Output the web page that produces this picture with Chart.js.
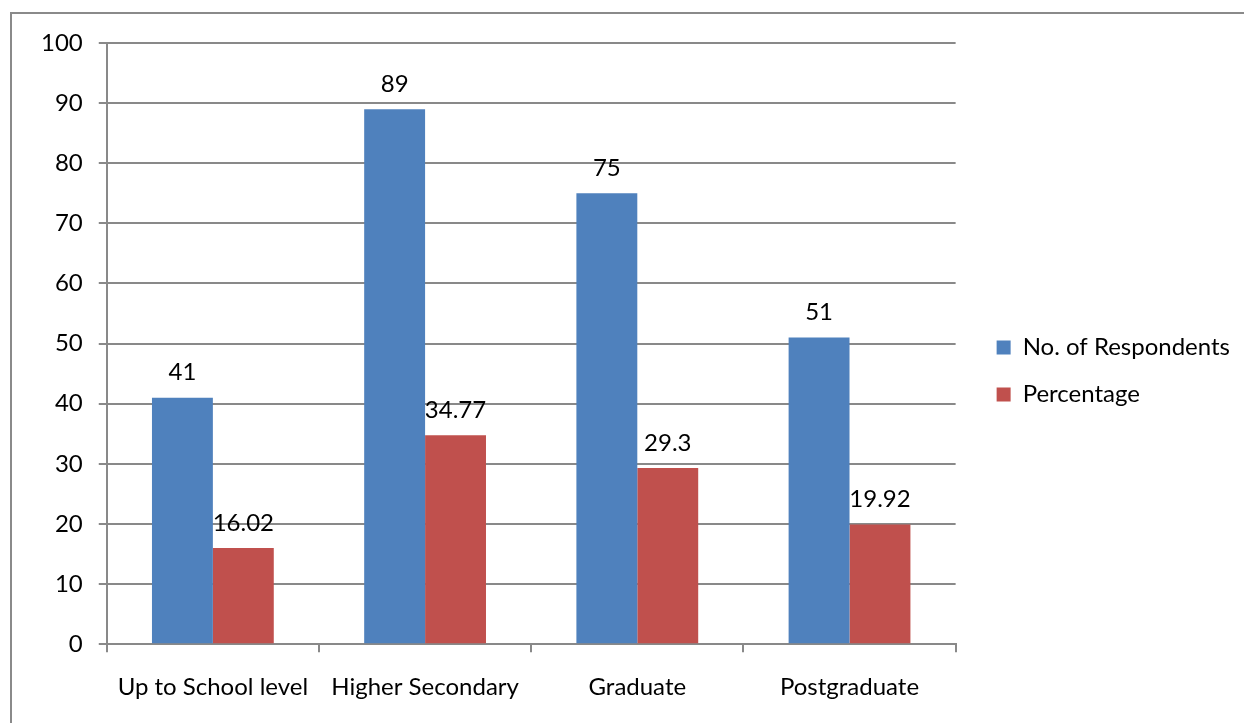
<!DOCTYPE html>
<html>
<head>
<meta http-equiv="Content-Type" content="text/html;charset=utf-8" />
<script src="https://cdn.jsdelivr.net/npm/chart.js@4.4.0/dist/chart.umd.min.js"></script>
<style>
  body { margin: 0; background: #fff; }
  #frame { position: absolute; left: 10px; top: 12px; width: 1300px; height: 800px;
           border-left: 2px solid #8a8a8a; border-top: 2px solid #8a8a8a; }
  #wrap { position: absolute; left: 0; top: 0; width: 1244px; height: 723px; }
</style>
</head>
<body>
<div id="frame"></div>
<div id="wrap"><canvas id="edu"></canvas></div>

<script type="text/javascript">
// education levels and the two series
var levels = ['Up to School level', 'Higher Secondary', 'Graduate', 'Postgraduate'];
var respondents = [41, 89, 75, 51];      // No. of Respondents
var percentage = [16.02, 34.77, 29.3, 19.92]; // Percentage
var yTicks = [0, 10, 20, 30, 40, 50, 60, 70, 80, 90, 100];

var gridGrey = '#898989';
var FONT = 'Lato, "Liberation Sans", sans-serif';
var FSIZE = 24;

// writes each value just above its bar
var barValues = {
  id: 'barValues',
  afterDatasetsDraw: function(chart) {
    var ctx = chart.ctx;
    ctx.save();
    ctx.font = FSIZE + 'px ' + FONT;
    ctx.fillStyle = '#000';
    ctx.textAlign = 'center';
    ctx.textBaseline = 'bottom';
    chart.data.datasets.forEach(function(ds, i) {
      chart.getDatasetMeta(i).data.forEach(function(bar, j) {
        ctx.fillText(String(ds.data[j]), bar.x, bar.y - 13);
      });
    });
    ctx.restore();
  }
};

// moves the legend box a little away from the plot after layout
var legendNudge = {
  id: 'legendNudge',
  afterLayout: function(chart, args, opts) {
    var lg = chart.legend;
    if (!lg) return;
    lg.left += opts.dx; lg.right += opts.dx;
    lg.top += opts.dy; lg.bottom += opts.dy;
  }
};

var ctx = document.getElementById('edu').getContext('2d');
var chart = new Chart(ctx, {
  type: 'bar',
  data: {
    labels: levels,
    datasets: [{
      label: 'No. of Respondents',
      backgroundColor: '#4F81BD',
      data: respondents
    }, {
      label: 'Percentage',
      backgroundColor: '#C0504D',
      data: percentage
    }]
  },
  options: {
    responsive: true,
    maintainAspectRatio: false,
    animation: false,
    layout: { padding: { left: 25, top: 43, right: 22, bottom: 0 } },
    datasets: { bar: { categoryPercentage: 0.574, barPercentage: 1.0 } },
    plugins: {
      tooltip: { enabled: false },
      legendNudge: { dx: 18, dy: -12 },
      legend: {
        position: 'right',
        labels: {
          boxWidth: 14, boxHeight: 14, padding: 23,
          color: '#000', font: { family: FONT, size: FSIZE }
        }
      }
    },
    scales: {
      x: {
        grid: { offset: true, drawOnChartArea: false, drawTicks: true, tickLength: 8,
                color: gridGrey, lineWidth: 2 },
        border: { color: gridGrey, width: 2 },
        ticks: { color: '#000', font: { family: FONT, size: FSIZE }, padding: 21, maxRotation: 0 }
      },
      y: {
        min: 0, max: 100,
        afterBuildTicks: function(scale) {
          scale.ticks = yTicks.map(function(v) { return { value: v }; });
        },
        grid: { color: gridGrey, lineWidth: 2, tickLength: 8 },
        border: { color: gridGrey, width: 2 },
        ticks: { color: '#000', font: { family: FONT, size: FSIZE }, padding: 16 }
      }
    }
  },
  plugins: [barValues, legendNudge]
});
</script>
</body>
</html>
